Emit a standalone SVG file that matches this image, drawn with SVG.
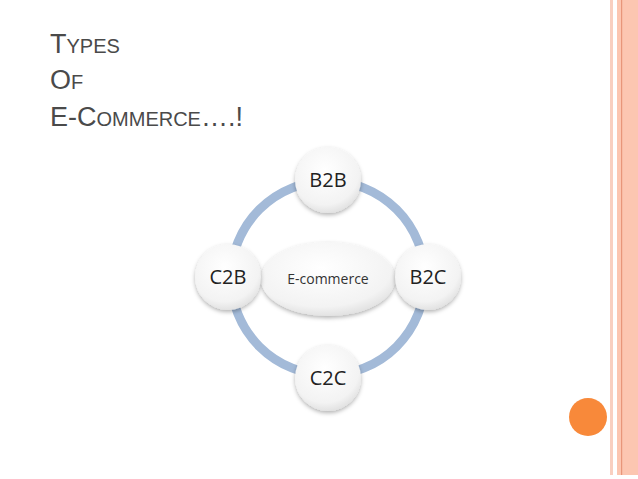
<svg xmlns="http://www.w3.org/2000/svg" width="638" height="479" viewBox="0 0 638 479">
<defs>
<radialGradient id="g" cx="0.45" cy="0.35" r="0.7">
<stop offset="0" stop-color="#ffffff"/><stop offset="0.75" stop-color="#f3f3f3"/><stop offset="1" stop-color="#dcdcdc"/>
</radialGradient>
<filter id="s" x="-20%" y="-20%" width="140%" height="150%"><feDropShadow dx="0" dy="2" stdDeviation="2" flood-color="#000" flood-opacity="0.3"/></filter>
</defs>
<style>
.t{font-family:"Liberation Sans",Arial,sans-serif;fill:#4a4a4a}
.n{fill:url(#g);filter:url(#s)}
.l{font-family:"Open Sans","DejaVu Sans",sans-serif;font-size:20px;fill:#222;text-anchor:middle}
</style>
<rect width="638" height="479" fill="#fff"/>
<rect x="610" y="0" width="3" height="475" fill="#f9cfc0"/>
<rect x="617" y="0" width="21" height="475" fill="#fcc6b1"/>
<rect x="621" y="0" width="1.2" height="475" fill="#e8967a"/>
<circle cx="588" cy="417" r="19" fill="#f8893a"/>
<text class="t" x="50" y="53"><tspan font-size="27">T</tspan><tspan font-size="20">YPES</tspan></text>
<text class="t" x="50" y="89"><tspan font-size="27">O</tspan><tspan font-size="20">F</tspan></text>
<text class="t" x="50" y="126"><tspan font-size="27">E-C</tspan><tspan font-size="20">OMMERCE</tspan><tspan font-size="27">….!</tspan></text>
<g id="connectors"><circle cx="328" cy="278" r="97" fill="none" stroke="#a3bad8" stroke-width="9"/></g>
<g id="center"><ellipse class="n" cx="328" cy="279" rx="67" ry="37"/><text x="328" y="284" font-family="Open Sans, sans-serif" font-size="14" fill="#333" text-anchor="middle">E-commerce</text></g>
<g id="b2b"><circle class="n" cx="328" cy="180" r="33"/><text class="l" x="328" y="187">B2B</text></g>
<g id="b2c"><circle class="n" cx="428" cy="277" r="33"/><text class="l" x="428" y="284">B2C</text></g>
<g id="c2b"><circle class="n" cx="228" cy="277" r="33"/><text class="l" x="228" y="284">C2B</text></g>
<g id="c2c"><circle class="n" cx="328" cy="378" r="33"/><text class="l" x="328" y="385">C2C</text></g>
</svg>
